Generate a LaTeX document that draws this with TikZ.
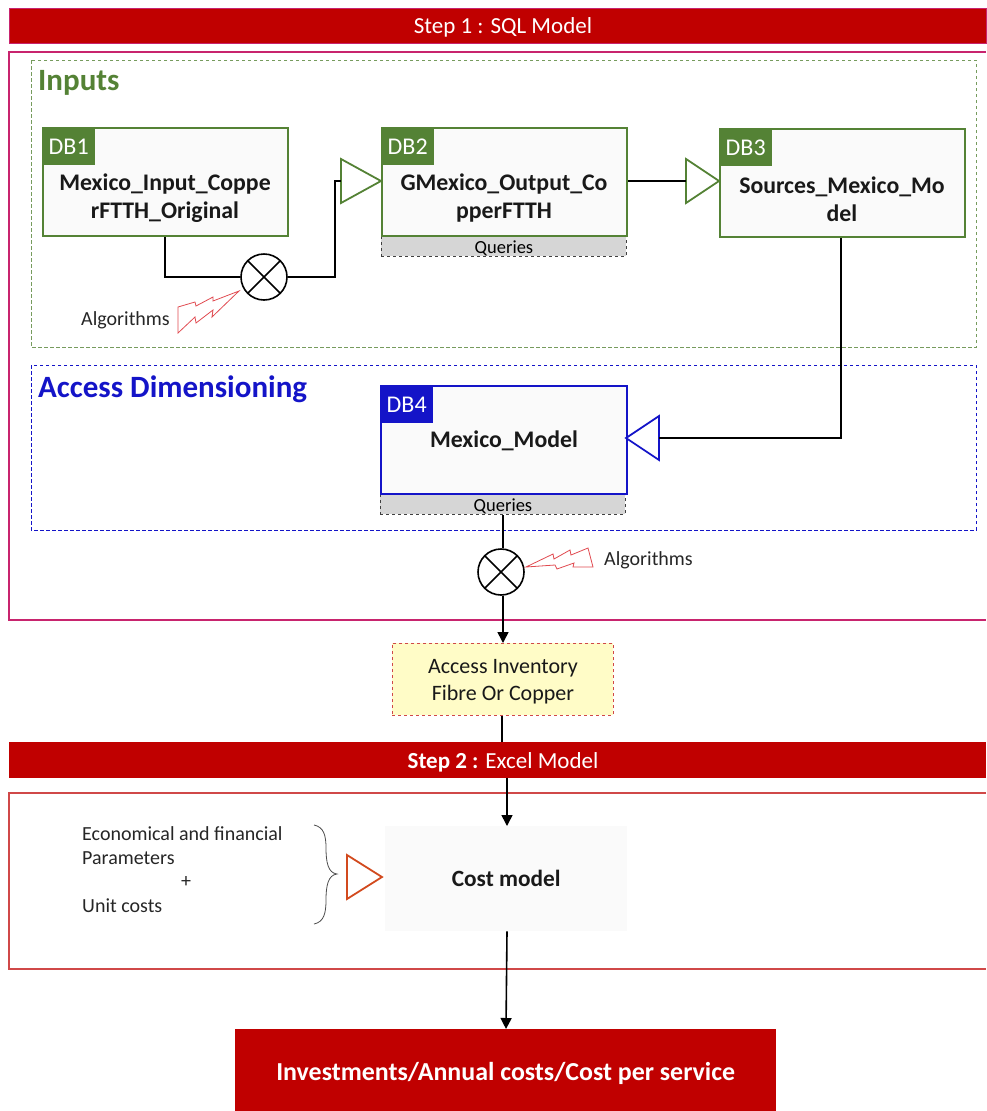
\documentclass[tikz,border=0pt]{standalone}
\usepackage{fontspec}
\setmainfont{Carlito}
\usetikzlibrary{arrows.meta}
\definecolor{barred}{HTML}{C00000}
\definecolor{pinkline}{HTML}{C8246E}
\definecolor{grn}{HTML}{548235}
\definecolor{blu}{HTML}{1414C8}
\definecolor{orng}{HTML}{D24A1E}
\definecolor{boltred}{HTML}{E04A50}
\definecolor{xlframe}{HTML}{D04848}
\newcommand{\lowered}[2]{\raisebox{-#1}[\height][\depth]{#2}}
\tikzset{
 x=1pt,y=-1pt,
 bar/.style={fill=barred,inner sep=0pt,anchor=north west},
 dbbox/.style={draw=#1,line width=2pt,fill=black!2,inner sep=0pt,anchor=north west,minimum width=245pt,minimum height=108pt},
 tag/.style={fill=#1,text=white,font=\fontsize{24}{26}\selectfont,inner sep=0pt,anchor=north west,minimum width=53pt,minimum height=38pt},
 dbtext/.style={font=\fontsize{23.8}{28}\selectfont\bfseries,align=center,text=black!90,inner sep=0pt},
 query/.style={draw=black!75,dashed,line width=0.9pt,fill=black!16,font=\fontsize{18.5}{20}\selectfont,inner sep=0pt,anchor=north west,minimum width=245pt,minimum height=20pt},
 conn/.style={draw=black,line width=1.6pt},
 arr/.style={conn,-{Triangle[width=11pt,length=11pt]}},
 tri/.style={line width=1.8pt,draw=#1,line join=miter},
 mix/.style={circle,draw=black,line width=1.6pt,minimum size=46pt,inner sep=0pt,path picture={\draw[black,line width=1.6pt] (path picture bounding box.south west)--(path picture bounding box.north east) (path picture bounding box.north west)--(path picture bounding box.south east);}},
 bolt/.style={draw=boltred,line width=0.8pt,line join=miter},
 lbl/.style={font=\fontsize{20}{24}\selectfont,text=black!85,inner sep=0pt,anchor=west},
 frame/.style={draw=#1,line width=1.2pt},
 zone/.style={draw=#1,dashed,line width=0.7pt,dash pattern=on 3.5pt off 2.5pt},
 head/.style={font=\fontsize{31}{34}\selectfont\bfseries,text=#1,inner sep=0pt,anchor=west},
}
\begin{document}
\begin{tikzpicture}
\useasboundingbox (0,0) rectangle (986,1111);
% frames
\draw[frame=pinkline] (986,52) -- (9,52) -- (9,620) -- (986,620);
\draw[zone=grn!80] (31,60) rectangle (976,347);
\draw[zone=blu] (31,365) rectangle (976,530);
\draw[frame=xlframe] (986,793) -- (9,793) -- (9,969) -- (986,969);
% bars
\node[bar,draw=pinkline,line width=1pt,minimum width=977pt,minimum height=35pt] (step1) at (9,8) {};
\node[text=white,font=\fontsize{23}{26}\selectfont,inner sep=0pt] (step1t) at (503,27) {Step 1 : SQL Model};
\node[bar,minimum width=977pt,minimum height=36pt] (step2) at (9,742) {};
\node[text=white,font=\fontsize{23}{26}\selectfont,inner sep=0pt] (step2t) at (503,762) {\textbf{Step 2 :} Excel Model};
\node[bar,minimum width=541pt,minimum height=82pt,text=white,font=\fontsize{25.9}{30}\selectfont\bfseries] (result) at (235,1029) {\lowered{3pt}{Investments/Annual costs/Cost per service}};
% headings
\node[head=grn] (inputs) at (38,83) {Inputs};
\node[head=blu] (access) at (38,389) {Access Dimensioning};
% queries (under the boxes)
\node[query] (q2) at (381,236) {\lowered{2pt}{Queries}};
\node[query] (q4) at (380,494) {\lowered{2pt}{Queries}};
% DB boxes
\node[dbbox=grn] (db1) at (42,127) {};
\node[dbbox=grn] (db2) at (381,127) {};
\node[dbbox=grn] (db3) at (719,128) {};
\node[dbbox=blu,minimum width=246pt] (db4) at (380,385) {};
\node[tag=grn] (t1) at (42,127) {\lowered{1pt}{DB1}};
\node[tag=grn] (t2) at (381,127) {\lowered{1pt}{DB2}};
\node[tag=grn] (t3) at (719,128) {\lowered{1pt}{DB3}};
\node[tag=blu] (t4) at (380,385) {\lowered{1pt}{DB4}};
\node[dbtext] (n1) at (165,198) {Mexico\_Input\_Coppe\\rFTTH\_Original};
\node[dbtext] (n2) at (504,198) {GMexico\_Output\_Co\\pperFTTH};
\node[dbtext] (n3) at (842,199) {Sources\_Mexico\_Mo\\del};
\node[dbtext] (n4) at (504,441) {Mexico\_Model};
% mix circles
\node[mix] (m1) at (264,277) {};
\node[mix] (m2) at (501,572) {};
% triangles
\coordinate (a1) at (341,181);
\coordinate (a2) at (686,181);
\coordinate (a4) at (659,438);
\draw[tri=grn] (341,159) -- (381,181) -- (341,203) -- cycle;
\draw[tri=grn] (686,159) -- (719,181) -- (686,203) -- cycle;
\draw[tri=blu] (659,416) -- (626,438) -- (659,460) -- cycle;
\draw[tri=orng] (347,855) -- (382,877) -- (347,899) -- cycle;
% connectors
\draw[conn] (db1.south -| 165,0) -- (165,277) -- (m1.west);
\draw[conn] (m1.east) -- (335,277) -- (335,181) -- (a1);
\draw[conn] (db2.east |- a2) -- (a2);
\draw[conn] (db3.south -| 841,0) -- (841,438) -- (a4);
\draw[conn] (q4.south -| 503,0) -- (m2.north -| 503,0);
% yellow
\node[draw=xlframe,dashed,line width=0.9pt,fill=yellow!22,align=center,font=\fontsize{22}{27}\selectfont,text=black!90,inner sep=0pt,anchor=north west,minimum width=221pt,minimum height=72pt] (inv) at (392,643) {\lowered{2.5pt}{Access Inventory}\\\lowered{2.5pt}{Fibre Or Copper}};
\draw[arr] (m2.south -| 503,0) -- (inv.north -| 503,0);
\draw[conn] (inv.south -| 502,0) -- (step2.north -| 502,0);
% cost model
\node[fill=black!2,inner sep=0pt,anchor=north west,minimum width=242pt,minimum height=105pt,font=\fontsize{23.3}{26}\selectfont\bfseries,text=black!90] (cost) at (385,826) {Cost model};
\draw[arr] (step2.south -| 507,0) -- (cost.north -| 507,0);
\draw[arr] (cost.south -| 507,0) -- (result.north -| 506,0);
% lightning
\draw[bolt] (239,291) -- (213,301) -- (213,297) -- (196,306) -- (195,302) -- (178,307) -- (178,333) -- (195,317) -- (196,323) -- (213,310) -- (212,317) -- cycle;
\draw[bolt] (526,567) -- (553,554) -- (554,559) -- (570,550) -- (571,555) -- (588,548) -- (593,567) -- (573,567) -- (574,563) -- (557,569) -- (555,565) -- cycle;
% labels
\node[lbl] (alg1) at (81,320) {Algorithms};
\node[lbl] (alg2) at (604,560) {Algorithms};
\node[lbl] (par1) at (82,834) {Economical and financial};
\node[lbl] (par2) at (82,858) {Parameters};
\node[lbl] (plus) at (181,882) {+};
\node[lbl] (par3) at (82,906) {Unit costs};
% brace
\draw[draw=black!70,line width=0.8pt] (314,825) .. controls (324,827) and (326,836) .. (326,848) .. controls (326,862) and (328,873) .. (337,874) .. controls (328,875) and (326,886) .. (326,900) .. controls (326,913) and (324,922) .. (314,924);
\end{tikzpicture}
\end{document}
